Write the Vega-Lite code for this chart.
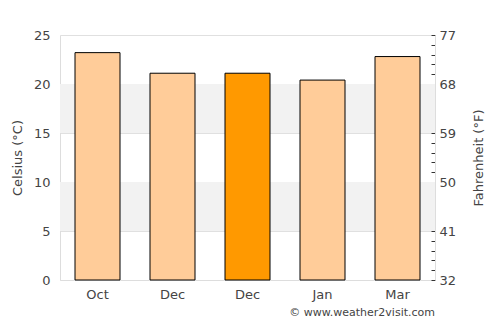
{
  "$schema": "https://vega.github.io/schema/vega-lite/v6.json",
  "width": 375,
  "height": 245,
  "autosize": {"type": "none"},
  "padding": {"left": 60, "top": 35, "right": 65, "bottom": 45},
  "background": "white",
  "config": {
    "font": "DejaVu Sans",
    "view": {"stroke": null},
    "axis": {"labelFont": "DejaVu Sans", "titleFont": "DejaVu Sans", "labelColor": "#444", "titleColor": "#444", "labelFontSize": 13, "titleFontSize": 13, "titleFontWeight": "normal"}
  },
  "title": {"text": "© www.weather2visit.com", "orient": "bottom", "anchor": "end", "frame": "group", "fontSize": 11, "fontWeight": "normal", "color": "#444", "font": "DejaVu Sans", "offset": 6},
  "datasets": {
    "temps": [
      {"month": "Oct_1", "celsius": 23.2, "highlight": "no"},
      {"month": "Dec_2", "celsius": 21.1, "highlight": "no"},
      {"month": "Dec_3", "celsius": 21.1, "highlight": "yes"},
      {"month": "Jan_4", "celsius": 20.4, "highlight": "no"},
      {"month": "Mar_5", "celsius": 22.8, "highlight": "no"}
    ],
    "bands": [
      {"low": 5, "high": 10},
      {"low": 15, "high": 20}
    ],
    "fahrenheit": [
      {"f": 32},
      {"f": 77}
    ]
  },
  "layer": [
    {
      "layer": [
        {
          "data": {"name": "bands"},
          "mark": {"type": "rect", "color": "#f2f2f2"},
          "encoding": {
            "y": {"field": "low", "type": "quantitative", "scale": {"domain": [0, 25], "nice": false},
              "axis": {"title": "Celsius (°C)", "values": [0, 5, 10, 15, 20, 25], "grid": true, "gridColor": "#e0e0e0", "domainColor": "#ddd", "ticks": false, "labelPadding": 10, "titlePadding": 9}},
            "y2": {"field": "high"}
          }
        },
        {
          "data": {"name": "temps"},
          "mark": {"type": "bar", "stroke": "black", "strokeWidth": 1},
          "encoding": {
            "x": {
              "field": "month", "type": "nominal", "sort": null,
              "scale": {"paddingInner": 0.4, "paddingOuter": 0.2},
              "axis": {"title": null, "labelAngle": 0, "labelExpr": "split(datum.label, '_')[0]", "ticks": false, "labelPadding": 8, "domainColor": "#ddd", "grid": false}
            },
            "y": {
              "field": "celsius", "type": "quantitative",
              "scale": {"domain": [0, 25], "nice": false}
            },
            "color": {
              "field": "highlight", "type": "nominal",
              "scale": {"domain": ["no", "yes"], "range": ["#ffcc99", "#ff9900"]},
              "legend": null
            }
          }
        }
      ]
    },
    {
      "data": {"name": "fahrenheit"},
      "mark": {"type": "point", "opacity": 0},
      "encoding": {
        "y": {
          "field": "f", "type": "quantitative",
          "scale": {"domain": [32, 77], "nice": false, "zero": false},
          "axis": {
            "orient": "right",
            "title": "Fahrenheit (°F)",
            "titleAngle": -90,
            "values": [32, 33.8, 35.6, 37.4, 39.2, 41, 42.8, 44.6, 46.4, 48.2, 50, 51.8, 53.6, 55.4, 57.2, 59, 60.8, 62.6, 64.4, 66.2, 68, 69.8, 71.6, 73.4, 75.2, 77],
            "labelExpr": "abs((datum.value - 32) / 9 - round((datum.value - 32) / 9)) < 0.01 ? format(datum.value, 'd') : ''",
            "tickSize": -4,
            "tickColor": "#333",
            "domainColor": "#ddd",
            "labelPadding": 8,
            "titlePadding": 30,
            "grid": false
          }
        }
      }
    }
  ],
  "resolve": {"scale": {"y": "independent"}}
}
